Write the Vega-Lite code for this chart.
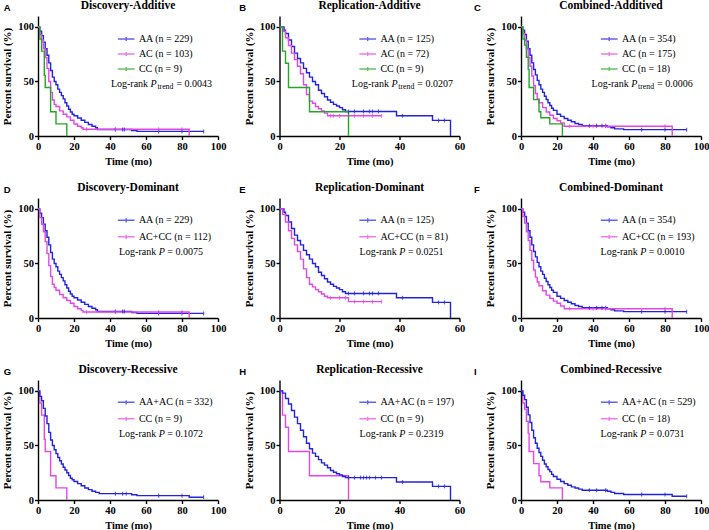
{
"$schema":"https://vega.github.io/schema/vega-lite/v6.json",
"background":"white",
"padding":{"left":1,"top":0,"right":0,"bottom":0},
"datasets":{
"steps":[
{"c":"dAA","t":0,"s":100},{"c":"dAA","t":1,"s":96},{"c":"dAA","t":2,"s":92},{"c":"dAA","t":3,"s":86},{"c":"dAA","t":4,"s":80},{"c":"dAA","t":5,"s":74},{"c":"dAA","t":6,"s":67},{"c":"dAA","t":7,"s":60},{"c":"dAA","t":8,"s":54},{"c":"dAA","t":9,"s":50},{"c":"dAA","t":10,"s":47},{"c":"dAA","t":11,"s":43},{"c":"dAA","t":12,"s":40},{"c":"dAA","t":13,"s":37},{"c":"dAA","t":14,"s":34},{"c":"dAA","t":15,"s":30.5},{"c":"dAA","t":16,"s":27.5},{"c":"dAA","t":17,"s":24.5},{"c":"dAA","t":18,"s":22},{"c":"dAA","t":19,"s":20},{"c":"dAA","t":20,"s":18.5},{"c":"dAA","t":22,"s":16.5},{"c":"dAA","t":24,"s":14.5},{"c":"dAA","t":26,"s":12.5},{"c":"dAA","t":28,"s":10.5},{"c":"dAA","t":30,"s":9},{"c":"dAA","t":32,"s":7.5},{"c":"dAA","t":33,"s":6},{"c":"dAA","t":52,"s":5},{"c":"dAA","t":55,"s":4.2},{"c":"dAA","t":92,"s":4.2},
{"c":"dAC","t":0,"s":100},{"c":"dAC","t":1,"s":93},{"c":"dAC","t":2,"s":88},{"c":"dAC","t":3,"s":80},{"c":"dAC","t":4,"s":72},{"c":"dAC","t":5,"s":62},{"c":"dAC","t":6,"s":50},{"c":"dAC","t":7,"s":40},{"c":"dAC","t":8,"s":33},{"c":"dAC","t":9,"s":29},{"c":"dAC","t":10,"s":27},{"c":"dAC","t":12,"s":23},{"c":"dAC","t":14,"s":20},{"c":"dAC","t":16,"s":17.5},{"c":"dAC","t":18,"s":14.5},{"c":"dAC","t":20,"s":11},{"c":"dAC","t":22,"s":9},{"c":"dAC","t":24,"s":7.5},{"c":"dAC","t":25,"s":6.2},{"c":"dAC","t":84,"s":0},
{"c":"dCC","t":0,"s":100},{"c":"dCC","t":1,"s":88.9},{"c":"dCC","t":2,"s":77.8},{"c":"dCC","t":3.5,"s":55.6},{"c":"dCC","t":4,"s":44.4},{"c":"dCC","t":7,"s":22.2},{"c":"dCC","t":10,"s":11.1},{"c":"dCC","t":16,"s":0},
{"c":"dACCC","t":0,"s":100},{"c":"dACCC","t":1,"s":92},{"c":"dACCC","t":2,"s":86},{"c":"dACCC","t":3,"s":79},{"c":"dACCC","t":4,"s":70},{"c":"dACCC","t":5,"s":59},{"c":"dACCC","t":6,"s":48},{"c":"dACCC","t":7,"s":38},{"c":"dACCC","t":8,"s":31},{"c":"dACCC","t":9,"s":28},{"c":"dACCC","t":10,"s":25.5},{"c":"dACCC","t":12,"s":21.5},{"c":"dACCC","t":14,"s":18.5},{"c":"dACCC","t":16,"s":16},{"c":"dACCC","t":18,"s":13.5},{"c":"dACCC","t":20,"s":10.5},{"c":"dACCC","t":22,"s":8.5},{"c":"dACCC","t":24,"s":7},{"c":"dACCC","t":25,"s":5.5},{"c":"dACCC","t":84,"s":0},
{"c":"dAAAC","t":0,"s":100},{"c":"dAAAC","t":1,"s":95},{"c":"dAAAC","t":2,"s":91},{"c":"dAAAC","t":3,"s":84},{"c":"dAAAC","t":4,"s":77},{"c":"dAAAC","t":5,"s":70},{"c":"dAAAC","t":6,"s":62},{"c":"dAAAC","t":7,"s":55},{"c":"dAAAC","t":8,"s":50},{"c":"dAAAC","t":9,"s":46},{"c":"dAAAC","t":10,"s":42.5},{"c":"dAAAC","t":11,"s":39},{"c":"dAAAC","t":12,"s":36},{"c":"dAAAC","t":13,"s":33},{"c":"dAAAC","t":14,"s":30},{"c":"dAAAC","t":15,"s":27.5},{"c":"dAAAC","t":16,"s":25},{"c":"dAAAC","t":17,"s":22.5},{"c":"dAAAC","t":18,"s":20},{"c":"dAAAC","t":19,"s":18.5},{"c":"dAAAC","t":20,"s":17},{"c":"dAAAC","t":22,"s":15},{"c":"dAAAC","t":24,"s":13},{"c":"dAAAC","t":26,"s":11},{"c":"dAAAC","t":28,"s":9.5},{"c":"dAAAC","t":30,"s":8},{"c":"dAAAC","t":32,"s":7},{"c":"dAAAC","t":34,"s":5.8},{"c":"dAAAC","t":52,"s":4.8},{"c":"dAAAC","t":55,"s":4},{"c":"dAAAC","t":84,"s":2.5},{"c":"dAAAC","t":92,"s":2.5},
{"c":"rAA","t":0,"s":100},{"c":"rAA","t":1.5,"s":97},{"c":"rAA","t":2,"s":94},{"c":"rAA","t":3,"s":88},{"c":"rAA","t":4,"s":82},{"c":"rAA","t":5,"s":76},{"c":"rAA","t":6,"s":71},{"c":"rAA","t":7,"s":67},{"c":"rAA","t":8,"s":62},{"c":"rAA","t":9,"s":58},{"c":"rAA","t":10,"s":54},{"c":"rAA","t":11,"s":50},{"c":"rAA","t":12,"s":47},{"c":"rAA","t":13,"s":42},{"c":"rAA","t":14,"s":39},{"c":"rAA","t":15,"s":36},{"c":"rAA","t":16,"s":33},{"c":"rAA","t":17,"s":31},{"c":"rAA","t":18,"s":29},{"c":"rAA","t":19,"s":27.5},{"c":"rAA","t":20,"s":26},{"c":"rAA","t":21,"s":24},{"c":"rAA","t":22,"s":22.5},{"c":"rAA","t":39,"s":18.5},{"c":"rAA","t":51,"s":14.3},{"c":"rAA","t":57,"s":0},
{"c":"rAC","t":0,"s":100},{"c":"rAC","t":1,"s":96},{"c":"rAC","t":2,"s":90},{"c":"rAC","t":3,"s":83},{"c":"rAC","t":4,"s":76},{"c":"rAC","t":5,"s":70},{"c":"rAC","t":6,"s":64},{"c":"rAC","t":7,"s":57},{"c":"rAC","t":8,"s":47},{"c":"rAC","t":9,"s":38},{"c":"rAC","t":10,"s":32},{"c":"rAC","t":11,"s":30},{"c":"rAC","t":12,"s":27},{"c":"rAC","t":13,"s":25},{"c":"rAC","t":14,"s":23},{"c":"rAC","t":15,"s":21},{"c":"rAC","t":16,"s":18.5},{"c":"rAC","t":34,"s":18.5},
{"c":"rCC","t":0,"s":100},{"c":"rCC","t":1,"s":77.8},{"c":"rCC","t":2,"s":66.7},{"c":"rCC","t":3,"s":44.4},{"c":"rCC","t":10,"s":22.2},{"c":"rCC","t":23,"s":0},
{"c":"rACCC","t":0,"s":100},{"c":"rACCC","t":1,"s":95},{"c":"rACCC","t":2,"s":88},{"c":"rACCC","t":3,"s":80},{"c":"rACCC","t":4,"s":73},{"c":"rACCC","t":5,"s":67},{"c":"rACCC","t":6,"s":61},{"c":"rACCC","t":7,"s":54},{"c":"rACCC","t":8,"s":45},{"c":"rACCC","t":9,"s":37},{"c":"rACCC","t":10,"s":31},{"c":"rACCC","t":11,"s":28.5},{"c":"rACCC","t":12,"s":26},{"c":"rACCC","t":13,"s":24},{"c":"rACCC","t":14,"s":22},{"c":"rACCC","t":15,"s":20},{"c":"rACCC","t":16,"s":18.5},{"c":"rACCC","t":23,"s":15},{"c":"rACCC","t":34,"s":15},
{"c":"rAAAC","t":0,"s":100},{"c":"rAAAC","t":1,"s":98},{"c":"rAAAC","t":2,"s":93},{"c":"rAAAC","t":3,"s":88},{"c":"rAAAC","t":4,"s":82},{"c":"rAAAC","t":5,"s":76},{"c":"rAAAC","t":6,"s":70},{"c":"rAAAC","t":7,"s":64},{"c":"rAAAC","t":8,"s":58},{"c":"rAAAC","t":9,"s":52},{"c":"rAAAC","t":10,"s":47},{"c":"rAAAC","t":11,"s":43},{"c":"rAAAC","t":12,"s":40},{"c":"rAAAC","t":13,"s":37},{"c":"rAAAC","t":14,"s":34},{"c":"rAAAC","t":15,"s":32},{"c":"rAAAC","t":16,"s":29.5},{"c":"rAAAC","t":17,"s":27},{"c":"rAAAC","t":18,"s":25.5},{"c":"rAAAC","t":19,"s":24},{"c":"rAAAC","t":20,"s":23},{"c":"rAAAC","t":21,"s":21.5},{"c":"rAAAC","t":22,"s":20.5},{"c":"rAAAC","t":39,"s":16.5},{"c":"rAAAC","t":51,"s":12.5},{"c":"rAAAC","t":57,"s":0},
{"c":"cAA","t":0,"s":100},{"c":"cAA","t":1,"s":97},{"c":"cAA","t":2,"s":93},{"c":"cAA","t":3,"s":87},{"c":"cAA","t":4,"s":80},{"c":"cAA","t":5,"s":74},{"c":"cAA","t":6,"s":67},{"c":"cAA","t":7,"s":61},{"c":"cAA","t":8,"s":56},{"c":"cAA","t":9,"s":51},{"c":"cAA","t":10,"s":47},{"c":"cAA","t":11,"s":43},{"c":"cAA","t":12,"s":40},{"c":"cAA","t":13,"s":36.5},{"c":"cAA","t":14,"s":33.5},{"c":"cAA","t":15,"s":30.5},{"c":"cAA","t":16,"s":28},{"c":"cAA","t":17,"s":25.5},{"c":"cAA","t":18,"s":23.5},{"c":"cAA","t":20,"s":20},{"c":"cAA","t":22,"s":18},{"c":"cAA","t":24,"s":16},{"c":"cAA","t":26,"s":14.5},{"c":"cAA","t":28,"s":13},{"c":"cAA","t":30,"s":11.5},{"c":"cAA","t":32,"s":10.5},{"c":"cAA","t":34,"s":9.5},{"c":"cAA","t":48,"s":8.5},{"c":"cAA","t":50,"s":7.5},{"c":"cAA","t":52,"s":6.5},{"c":"cAA","t":57,"s":5.8},{"c":"cAA","t":92,"s":5.8},
{"c":"cAC","t":0,"s":100},{"c":"cAC","t":1,"s":94},{"c":"cAC","t":2,"s":88},{"c":"cAC","t":3,"s":80},{"c":"cAC","t":4,"s":72},{"c":"cAC","t":5,"s":64},{"c":"cAC","t":6,"s":55},{"c":"cAC","t":7,"s":46},{"c":"cAC","t":8,"s":39},{"c":"cAC","t":9,"s":34},{"c":"cAC","t":10,"s":30.5},{"c":"cAC","t":12,"s":26},{"c":"cAC","t":14,"s":22},{"c":"cAC","t":16,"s":19},{"c":"cAC","t":18,"s":16},{"c":"cAC","t":20,"s":14},{"c":"cAC","t":22,"s":12},{"c":"cAC","t":24,"s":9},{"c":"cAC","t":84,"s":0},
{"c":"cCC","t":0,"s":100},{"c":"cCC","t":1,"s":88.9},{"c":"cCC","t":2,"s":83.3},{"c":"cCC","t":3,"s":72.2},{"c":"cCC","t":4,"s":61.1},{"c":"cCC","t":4.5,"s":44.4},{"c":"cCC","t":7,"s":33.3},{"c":"cCC","t":10,"s":22.2},{"c":"cCC","t":11,"s":16.7},{"c":"cCC","t":16,"s":11.1},{"c":"cCC","t":23,"s":0},
{"c":"cACCC","t":0,"s":100},{"c":"cACCC","t":1,"s":93},{"c":"cACCC","t":2,"s":87},{"c":"cACCC","t":3,"s":79},{"c":"cACCC","t":4,"s":71},{"c":"cACCC","t":5,"s":62},{"c":"cACCC","t":6,"s":53},{"c":"cACCC","t":7,"s":44},{"c":"cACCC","t":8,"s":37.5},{"c":"cACCC","t":9,"s":33},{"c":"cACCC","t":10,"s":29.5},{"c":"cACCC","t":12,"s":25},{"c":"cACCC","t":14,"s":21},{"c":"cACCC","t":16,"s":18},{"c":"cACCC","t":18,"s":15.5},{"c":"cACCC","t":20,"s":13.5},{"c":"cACCC","t":22,"s":11},{"c":"cACCC","t":24,"s":8.5},{"c":"cACCC","t":84,"s":0},
{"c":"cAAAC","t":0,"s":100},{"c":"cAAAC","t":1,"s":96},{"c":"cAAAC","t":2,"s":92},{"c":"cAAAC","t":3,"s":85},{"c":"cAAAC","t":4,"s":78},{"c":"cAAAC","t":5,"s":71},{"c":"cAAAC","t":6,"s":64},{"c":"cAAAC","t":7,"s":57},{"c":"cAAAC","t":8,"s":52},{"c":"cAAAC","t":9,"s":47.5},{"c":"cAAAC","t":10,"s":43.5},{"c":"cAAAC","t":11,"s":40},{"c":"cAAAC","t":12,"s":36.5},{"c":"cAAAC","t":13,"s":33},{"c":"cAAAC","t":14,"s":30.5},{"c":"cAAAC","t":15,"s":28},{"c":"cAAAC","t":16,"s":26},{"c":"cAAAC","t":17,"s":23.5},{"c":"cAAAC","t":18,"s":21.5},{"c":"cAAAC","t":20,"s":19},{"c":"cAAAC","t":22,"s":17},{"c":"cAAAC","t":24,"s":15},{"c":"cAAAC","t":26,"s":13.5},{"c":"cAAAC","t":28,"s":12},{"c":"cAAAC","t":30,"s":11},{"c":"cAAAC","t":32,"s":10},{"c":"cAAAC","t":34,"s":9},{"c":"cAAAC","t":48,"s":8},{"c":"cAAAC","t":50,"s":7},{"c":"cAAAC","t":52,"s":6},{"c":"cAAAC","t":57,"s":5},{"c":"cAAAC","t":84,"s":3.5},{"c":"cAAAC","t":92,"s":3.5}
],
"cens":[
{"c":"dAA","t":43,"s":6},{"c":"dAA","t":47,"s":6},{"c":"dAA","t":48,"s":6},{"c":"dAA","t":67,"s":4.2},{"c":"dAA","t":80,"s":4.2},{"c":"dAA","t":92,"s":4.2},
{"c":"dAC","t":27,"s":6.2},{"c":"dAC","t":43,"s":6.2},{"c":"dAC","t":67,"s":6.2},{"c":"dAC","t":80,"s":6.2},
{"c":"dACCC","t":27,"s":5.5},{"c":"dACCC","t":43,"s":5.5},{"c":"dACCC","t":67,"s":5.5},{"c":"dACCC","t":80,"s":5.5},
{"c":"dAAAC","t":43,"s":5.8},{"c":"dAAAC","t":47,"s":5.8},{"c":"dAAAC","t":49,"s":5.8},{"c":"dAAAC","t":67,"s":4},{"c":"dAAAC","t":80,"s":4},{"c":"dAAAC","t":92,"s":2.5},
{"c":"rAA","t":23,"s":22.5},{"c":"rAA","t":25,"s":22.5},{"c":"rAA","t":28,"s":22.5},{"c":"rAA","t":30,"s":22.5},{"c":"rAA","t":31,"s":22.5},{"c":"rAA","t":33,"s":22.5},{"c":"rAA","t":41,"s":18.5},{"c":"rAA","t":53,"s":14.3},{"c":"rAA","t":55,"s":14.3},
{"c":"rAC","t":17,"s":18.5},{"c":"rAC","t":18,"s":18.5},{"c":"rAC","t":20,"s":18.5},{"c":"rAC","t":25,"s":18.5},{"c":"rAC","t":28,"s":18.5},{"c":"rAC","t":31,"s":18.5},{"c":"rAC","t":34,"s":18.5},
{"c":"rACCC","t":17,"s":18.5},{"c":"rACCC","t":20,"s":18.5},{"c":"rACCC","t":22,"s":18.5},{"c":"rACCC","t":25,"s":15},{"c":"rACCC","t":28,"s":15},{"c":"rACCC","t":31,"s":15},{"c":"rACCC","t":34,"s":15},
{"c":"rAAAC","t":23,"s":20.5},{"c":"rAAAC","t":25,"s":20.5},{"c":"rAAAC","t":27,"s":20.5},{"c":"rAAAC","t":28,"s":20.5},{"c":"rAAAC","t":29,"s":20.5},{"c":"rAAAC","t":30,"s":20.5},{"c":"rAAAC","t":32,"s":20.5},{"c":"rAAAC","t":34,"s":20.5},{"c":"rAAAC","t":41,"s":16.5},{"c":"rAAAC","t":53,"s":12.5},{"c":"rAAAC","t":55,"s":12.5},
{"c":"cAA","t":38,"s":9.5},{"c":"cAA","t":42,"s":9.5},{"c":"cAA","t":45,"s":9.5},{"c":"cAA","t":47,"s":9.5},{"c":"cAA","t":67,"s":5.8},{"c":"cAA","t":80,"s":5.8},{"c":"cAA","t":92,"s":5.8},
{"c":"cAC","t":27,"s":9},{"c":"cAC","t":40,"s":9},{"c":"cAC","t":47,"s":9},{"c":"cAC","t":80,"s":9},
{"c":"cACCC","t":27,"s":8.5},{"c":"cACCC","t":40,"s":8.5},{"c":"cACCC","t":47,"s":8.5},{"c":"cACCC","t":80,"s":8.5},
{"c":"cAAAC","t":38,"s":9},{"c":"cAAAC","t":42,"s":9},{"c":"cAAAC","t":47,"s":9},{"c":"cAAAC","t":67,"s":5},{"c":"cAAAC","t":80,"s":5},{"c":"cAAAC","t":92,"s":3.5}
]
},
"columns":3,
"spacing":{"row":62,"column":61.5},
"bounds":"flush",
"resolve":{"scale":{"color":"independent"},"legend":{"color":"independent"}},
"concat":[
{"width":180,"height":120,"layer":[
{"data":{"name":"steps"},"transform":[{"filter":{"field":"c","oneOf":["dAA","dAC","dCC"]}}],"mark":{"type":"line","interpolate":"step-after","strokeWidth":1.4},
"encoding":{"x":{"field":"t","type":"quantitative","scale":{"domain":[0,100],"nice":false},"axis":{"tickCount":5,"title":"Time (mo)"}},
"y":{"field":"s","type":"quantitative","scale":{"domain":[0,110],"nice":false},"axis":{"values":[0,50,100],"title":"Percent survival (%)"}},
"color":{"field":"c","type":"nominal","scale":{"domain":["dAA","dAC","dCC"],"range":["#2323dc","#e448e4","#27a527"]},"legend":{"title":null,"legendX":83.2,"legendY":18,"rowPadding":5,"labelFont":"Liberation Serif","labelExpr":"datum.label=='dAA'?'AA (n = 229)':datum.label=='dAC'?'AC (n = 103)':'CC (n = 9)'"}}}},
{"data":{"name":"cens"},"transform":[{"filter":{"field":"c","oneOf":["dAA","dAC","dCC"]}}],"mark":{"type":"tick","orient":"vertical","size":4,"thickness":1.2},"encoding":{"x":{"field":"t","type":"quantitative"},"y":{"field":"s","type":"quantitative"},"color":{"field":"c","type":"nominal"}}},
{"data":{"values":[{}]},"mark":{"type":"text","text":"Discovery-Additive","align":"center","fontSize":11.5,"fontWeight":"bold"},"encoding":{"x":{"datum":50},"y":{"datum":116}}},
{"data":{"values":[{}]},"mark":{"type":"text","text":"A","font":"Liberation Sans","fontSize":9.5,"fontWeight":"bold"},"encoding":{"x":{"datum":-19},"y":{"datum":115}}},
{"data":{"values":[{}]},"mark":{"type":"text","text":"Log-rank"},"encoding":{"x":{"datum":40.5},"y":{"datum":45}}},
{"data":{"values":[{}]},"mark":{"type":"text","text":"P","fontStyle":"italic","dx":39.7},"encoding":{"x":{"datum":40.5},"y":{"datum":45}}},
{"data":{"values":[{}]},"mark":{"type":"text","text":"trend","fontSize":7.8,"dx":46.5,"dy":2.5},"encoding":{"x":{"datum":40.5},"y":{"datum":45}}},
{"data":{"values":[{}]},"mark":{"type":"text","text":"= 0.0043","dx":65.5},"encoding":{"x":{"datum":40.5},"y":{"datum":45}}}
]},
{"width":180,"height":120,"layer":[
{"data":{"name":"steps"},"transform":[{"filter":{"field":"c","oneOf":["rAA","rAC","rCC"]}}],"mark":{"type":"line","interpolate":"step-after","strokeWidth":1.4},
"encoding":{"x":{"field":"t","type":"quantitative","scale":{"domain":[0,60],"nice":false},"axis":{"values":[0,20,40,60],"title":"Time (mo)"}},
"y":{"field":"s","type":"quantitative","scale":{"domain":[0,110],"nice":false},"axis":{"values":[0,50,100],"title":"Percent survival (%)"}},
"color":{"field":"c","type":"nominal","scale":{"domain":["rAA","rAC","rCC"],"range":["#2323dc","#e448e4","#27a527"]},"legend":{"title":null,"legendX":83.2,"legendY":18,"rowPadding":5,"labelFont":"Liberation Serif","labelExpr":"datum.label=='rAA'?'AA (n = 125)':datum.label=='rAC'?'AC (n = 72)':'CC (n = 9)'"}}}},
{"data":{"name":"cens"},"transform":[{"filter":{"field":"c","oneOf":["rAA","rAC","rCC"]}}],"mark":{"type":"tick","orient":"vertical","size":4,"thickness":1.2},"encoding":{"x":{"field":"t","type":"quantitative"},"y":{"field":"s","type":"quantitative"},"color":{"field":"c","type":"nominal"}}},
{"data":{"values":[{}]},"mark":{"type":"text","text":"Replication-Additive","align":"center","fontSize":11.5,"fontWeight":"bold"},"encoding":{"x":{"datum":30},"y":{"datum":116}}},
{"data":{"values":[{}]},"mark":{"type":"text","text":"B","font":"Liberation Sans","fontSize":9.5,"fontWeight":"bold"},"encoding":{"x":{"datum":-13.4},"y":{"datum":115}}},
{"data":{"values":[{}]},"mark":{"type":"text","text":"Log-rank"},"encoding":{"x":{"datum":24.1},"y":{"datum":45}}},
{"data":{"values":[{}]},"mark":{"type":"text","text":"P","fontStyle":"italic","dx":39.7},"encoding":{"x":{"datum":24.1},"y":{"datum":45}}},
{"data":{"values":[{}]},"mark":{"type":"text","text":"trend","fontSize":7.8,"dx":46.5,"dy":2.5},"encoding":{"x":{"datum":24.1},"y":{"datum":45}}},
{"data":{"values":[{}]},"mark":{"type":"text","text":"= 0.0207","dx":65.5},"encoding":{"x":{"datum":24.1},"y":{"datum":45}}}
]},
{"width":180,"height":120,"layer":[
{"data":{"name":"steps"},"transform":[{"filter":{"field":"c","oneOf":["cAA","cAC","cCC"]}}],"mark":{"type":"line","interpolate":"step-after","strokeWidth":1.4},
"encoding":{"x":{"field":"t","type":"quantitative","scale":{"domain":[0,100],"nice":false},"axis":{"tickCount":5,"title":"Time (mo)"}},
"y":{"field":"s","type":"quantitative","scale":{"domain":[0,110],"nice":false},"axis":{"values":[0,50,100],"title":"Percent survival (%)"}},
"color":{"field":"c","type":"nominal","scale":{"domain":["cAA","cAC","cCC"],"range":["#2323dc","#e448e4","#27a527"]},"legend":{"title":null,"legendX":83.2,"legendY":18,"rowPadding":5,"labelFont":"Liberation Serif","labelExpr":"datum.label=='cAA'?'AA (n = 354)':datum.label=='cAC'?'AC (n = 175)':'CC (n = 18)'"}}}},
{"data":{"name":"cens"},"transform":[{"filter":{"field":"c","oneOf":["cAA","cAC","cCC"]}}],"mark":{"type":"tick","orient":"vertical","size":4,"thickness":1.2},"encoding":{"x":{"field":"t","type":"quantitative"},"y":{"field":"s","type":"quantitative"},"color":{"field":"c","type":"nominal"}}},
{"data":{"values":[{}]},"mark":{"type":"text","text":"Combined-Additived","align":"center","fontSize":11.5,"fontWeight":"bold"},"encoding":{"x":{"datum":50},"y":{"datum":116}}},
{"data":{"values":[{}]},"mark":{"type":"text","text":"C","font":"Liberation Sans","fontSize":9.5,"fontWeight":"bold"},"encoding":{"x":{"datum":-26.1},"y":{"datum":115}}},
{"data":{"values":[{}]},"mark":{"type":"text","text":"Log-rank"},"encoding":{"x":{"datum":39.2},"y":{"datum":45}}},
{"data":{"values":[{}]},"mark":{"type":"text","text":"P","fontStyle":"italic","dx":39.7},"encoding":{"x":{"datum":39.2},"y":{"datum":45}}},
{"data":{"values":[{}]},"mark":{"type":"text","text":"trend","fontSize":7.8,"dx":46.5,"dy":2.5},"encoding":{"x":{"datum":39.2},"y":{"datum":45}}},
{"data":{"values":[{}]},"mark":{"type":"text","text":"= 0.0006","dx":65.5},"encoding":{"x":{"datum":39.2},"y":{"datum":45}}}
]},
{"width":180,"height":120,"layer":[
{"data":{"name":"steps"},"transform":[{"filter":{"field":"c","oneOf":["dAA","dACCC"]}}],"mark":{"type":"line","interpolate":"step-after","strokeWidth":1.4},
"encoding":{"x":{"field":"t","type":"quantitative","scale":{"domain":[0,100],"nice":false},"axis":{"tickCount":5,"title":"Time (mo)"}},
"y":{"field":"s","type":"quantitative","scale":{"domain":[0,110],"nice":false},"axis":{"values":[0,50,100],"title":"Percent survival (%)"}},
"color":{"field":"c","type":"nominal","scale":{"domain":["dAA","dACCC"],"range":["#2323dc","#e448e4"]},"legend":{"title":null,"legendX":83.2,"legendY":17.3,"rowPadding":6.5,"labelFont":"Liberation Serif","labelExpr":"datum.label=='dAA'?'AA (n = 229)':'AC+CC (n = 112)'"}}}},
{"data":{"name":"cens"},"transform":[{"filter":{"field":"c","oneOf":["dAA","dACCC"]}}],"mark":{"type":"tick","orient":"vertical","size":4,"thickness":1.2},"encoding":{"x":{"field":"t","type":"quantitative"},"y":{"field":"s","type":"quantitative"},"color":{"field":"c","type":"nominal"}}},
{"data":{"values":[{}]},"mark":{"type":"text","text":"Discovery-Dominant","align":"center","fontSize":11.5,"fontWeight":"bold"},"encoding":{"x":{"datum":50},"y":{"datum":116}}},
{"data":{"values":[{}]},"mark":{"type":"text","text":"D","font":"Liberation Sans","fontSize":9.5,"fontWeight":"bold"},"encoding":{"x":{"datum":-19},"y":{"datum":115}}},
{"data":{"values":[{}]},"mark":{"type":"text","text":"Log-rank"},"encoding":{"x":{"datum":45},"y":{"datum":57.4}}},
{"data":{"values":[{}]},"mark":{"type":"text","text":"P","fontStyle":"italic","dx":39.7},"encoding":{"x":{"datum":45},"y":{"datum":57.4}}},
{"data":{"values":[{}]},"mark":{"type":"text","text":"= 0.0075","dx":48.3},"encoding":{"x":{"datum":45},"y":{"datum":57.4}}}
]},
{"width":180,"height":120,"layer":[
{"data":{"name":"steps"},"transform":[{"filter":{"field":"c","oneOf":["rAA","rACCC"]}}],"mark":{"type":"line","interpolate":"step-after","strokeWidth":1.4},
"encoding":{"x":{"field":"t","type":"quantitative","scale":{"domain":[0,60],"nice":false},"axis":{"values":[0,20,40,60],"title":"Time (mo)"}},
"y":{"field":"s","type":"quantitative","scale":{"domain":[0,110],"nice":false},"axis":{"values":[0,50,100],"title":"Percent survival (%)"}},
"color":{"field":"c","type":"nominal","scale":{"domain":["rAA","rACCC"],"range":["#2323dc","#e448e4"]},"legend":{"title":null,"legendX":83.2,"legendY":17.3,"rowPadding":6.5,"labelFont":"Liberation Serif","labelExpr":"datum.label=='rAA'?'AA (n = 125)':'AC+CC (n = 81)'"}}}},
{"data":{"name":"cens"},"transform":[{"filter":{"field":"c","oneOf":["rAA","rACCC"]}}],"mark":{"type":"tick","orient":"vertical","size":4,"thickness":1.2},"encoding":{"x":{"field":"t","type":"quantitative"},"y":{"field":"s","type":"quantitative"},"color":{"field":"c","type":"nominal"}}},
{"data":{"values":[{}]},"mark":{"type":"text","text":"Replication-Dominant","align":"center","fontSize":11.5,"fontWeight":"bold"},"encoding":{"x":{"datum":30},"y":{"datum":116}}},
{"data":{"values":[{}]},"mark":{"type":"text","text":"E","font":"Liberation Sans","fontSize":9.5,"fontWeight":"bold"},"encoding":{"x":{"datum":-13.4},"y":{"datum":115}}},
{"data":{"values":[{}]},"mark":{"type":"text","text":"Log-rank"},"encoding":{"x":{"datum":26.7},"y":{"datum":57.4}}},
{"data":{"values":[{}]},"mark":{"type":"text","text":"P","fontStyle":"italic","dx":39.7},"encoding":{"x":{"datum":26.7},"y":{"datum":57.4}}},
{"data":{"values":[{}]},"mark":{"type":"text","text":"= 0.0251","dx":48.3},"encoding":{"x":{"datum":26.7},"y":{"datum":57.4}}}
]},
{"width":180,"height":120,"layer":[
{"data":{"name":"steps"},"transform":[{"filter":{"field":"c","oneOf":["cAA","cACCC"]}}],"mark":{"type":"line","interpolate":"step-after","strokeWidth":1.4},
"encoding":{"x":{"field":"t","type":"quantitative","scale":{"domain":[0,100],"nice":false},"axis":{"tickCount":5,"title":"Time (mo)"}},
"y":{"field":"s","type":"quantitative","scale":{"domain":[0,110],"nice":false},"axis":{"values":[0,50,100],"title":"Percent survival (%)"}},
"color":{"field":"c","type":"nominal","scale":{"domain":["cAA","cACCC"],"range":["#2323dc","#e448e4"]},"legend":{"title":null,"legendX":83.2,"legendY":17.3,"rowPadding":6.5,"labelFont":"Liberation Serif","labelExpr":"datum.label=='cAA'?'AA (n = 354)':'AC+CC (n = 193)'"}}}},
{"data":{"name":"cens"},"transform":[{"filter":{"field":"c","oneOf":["cAA","cACCC"]}}],"mark":{"type":"tick","orient":"vertical","size":4,"thickness":1.2},"encoding":{"x":{"field":"t","type":"quantitative"},"y":{"field":"s","type":"quantitative"},"color":{"field":"c","type":"nominal"}}},
{"data":{"values":[{}]},"mark":{"type":"text","text":"Combined-Dominant","align":"center","fontSize":11.5,"fontWeight":"bold"},"encoding":{"x":{"datum":50},"y":{"datum":116}}},
{"data":{"values":[{}]},"mark":{"type":"text","text":"F","font":"Liberation Sans","fontSize":9.5,"fontWeight":"bold"},"encoding":{"x":{"datum":-26.1},"y":{"datum":115}}},
{"data":{"values":[{}]},"mark":{"type":"text","text":"Log-rank"},"encoding":{"x":{"datum":44.2},"y":{"datum":57.4}}},
{"data":{"values":[{}]},"mark":{"type":"text","text":"P","fontStyle":"italic","dx":39.7},"encoding":{"x":{"datum":44.2},"y":{"datum":57.4}}},
{"data":{"values":[{}]},"mark":{"type":"text","text":"= 0.0010","dx":48.3},"encoding":{"x":{"datum":44.2},"y":{"datum":57.4}}}
]},
{"width":180,"height":120,"layer":[
{"data":{"name":"steps"},"transform":[{"filter":{"field":"c","oneOf":["dAAAC","dCC"]}}],"mark":{"type":"line","interpolate":"step-after","strokeWidth":1.4},
"encoding":{"x":{"field":"t","type":"quantitative","scale":{"domain":[0,100],"nice":false},"axis":{"tickCount":5,"title":"Time (mo)"}},
"y":{"field":"s","type":"quantitative","scale":{"domain":[0,110],"nice":false},"axis":{"values":[0,50,100],"title":"Percent survival (%)"}},
"color":{"field":"c","type":"nominal","scale":{"domain":["dAAAC","dCC"],"range":["#2323dc","#e448e4"]},"legend":{"title":null,"legendX":83.2,"legendY":17.3,"rowPadding":6.5,"labelFont":"Liberation Serif","labelExpr":"datum.label=='dAAAC'?'AA+AC (n = 332)':'CC (n = 9)'"}}}},
{"data":{"name":"cens"},"transform":[{"filter":{"field":"c","oneOf":["dAAAC","dCC"]}}],"mark":{"type":"tick","orient":"vertical","size":4,"thickness":1.2},"encoding":{"x":{"field":"t","type":"quantitative"},"y":{"field":"s","type":"quantitative"},"color":{"field":"c","type":"nominal"}}},
{"data":{"values":[{}]},"mark":{"type":"text","text":"Discovery-Recessive","align":"center","fontSize":11.5,"fontWeight":"bold"},"encoding":{"x":{"datum":50},"y":{"datum":116}}},
{"data":{"values":[{}]},"mark":{"type":"text","text":"G","font":"Liberation Sans","fontSize":9.5,"fontWeight":"bold"},"encoding":{"x":{"datum":-19},"y":{"datum":115}}},
{"data":{"values":[{}]},"mark":{"type":"text","text":"Log-rank"},"encoding":{"x":{"datum":45},"y":{"datum":57.4}}},
{"data":{"values":[{}]},"mark":{"type":"text","text":"P","fontStyle":"italic","dx":39.7},"encoding":{"x":{"datum":45},"y":{"datum":57.4}}},
{"data":{"values":[{}]},"mark":{"type":"text","text":"= 0.1072","dx":48.3},"encoding":{"x":{"datum":45},"y":{"datum":57.4}}}
]},
{"width":180,"height":120,"layer":[
{"data":{"name":"steps"},"transform":[{"filter":{"field":"c","oneOf":["rAAAC","rCC"]}}],"mark":{"type":"line","interpolate":"step-after","strokeWidth":1.4},
"encoding":{"x":{"field":"t","type":"quantitative","scale":{"domain":[0,60],"nice":false},"axis":{"values":[0,20,40,60],"title":"Time (mo)"}},
"y":{"field":"s","type":"quantitative","scale":{"domain":[0,110],"nice":false},"axis":{"values":[0,50,100],"title":"Percent survival (%)"}},
"color":{"field":"c","type":"nominal","scale":{"domain":["rAAAC","rCC"],"range":["#2323dc","#e448e4"]},"legend":{"title":null,"legendX":83.2,"legendY":17.3,"rowPadding":6.5,"labelFont":"Liberation Serif","labelExpr":"datum.label=='rAAAC'?'AA+AC (n = 197)':'CC (n = 9)'"}}}},
{"data":{"name":"cens"},"transform":[{"filter":{"field":"c","oneOf":["rAAAC","rCC"]}}],"mark":{"type":"tick","orient":"vertical","size":4,"thickness":1.2},"encoding":{"x":{"field":"t","type":"quantitative"},"y":{"field":"s","type":"quantitative"},"color":{"field":"c","type":"nominal"}}},
{"data":{"values":[{}]},"mark":{"type":"text","text":"Replication-Recessive","align":"center","fontSize":11.5,"fontWeight":"bold"},"encoding":{"x":{"datum":30},"y":{"datum":116}}},
{"data":{"values":[{}]},"mark":{"type":"text","text":"H","font":"Liberation Sans","fontSize":9.5,"fontWeight":"bold"},"encoding":{"x":{"datum":-13.4},"y":{"datum":115}}},
{"data":{"values":[{}]},"mark":{"type":"text","text":"Log-rank"},"encoding":{"x":{"datum":26.7},"y":{"datum":57.4}}},
{"data":{"values":[{}]},"mark":{"type":"text","text":"P","fontStyle":"italic","dx":39.7},"encoding":{"x":{"datum":26.7},"y":{"datum":57.4}}},
{"data":{"values":[{}]},"mark":{"type":"text","text":"= 0.2319","dx":48.3},"encoding":{"x":{"datum":26.7},"y":{"datum":57.4}}}
]},
{"width":180,"height":120,"layer":[
{"data":{"name":"steps"},"transform":[{"filter":{"field":"c","oneOf":["cAAAC","cCC"]}}],"mark":{"type":"line","interpolate":"step-after","strokeWidth":1.4},
"encoding":{"x":{"field":"t","type":"quantitative","scale":{"domain":[0,100],"nice":false},"axis":{"tickCount":5,"title":"Time (mo)"}},
"y":{"field":"s","type":"quantitative","scale":{"domain":[0,110],"nice":false},"axis":{"values":[0,50,100],"title":"Percent survival (%)"}},
"color":{"field":"c","type":"nominal","scale":{"domain":["cAAAC","cCC"],"range":["#2323dc","#e448e4"]},"legend":{"title":null,"legendX":83.2,"legendY":17.3,"rowPadding":6.5,"labelFont":"Liberation Serif","labelExpr":"datum.label=='cAAAC'?'AA+AC (n = 529)':'CC (n = 18)'"}}}},
{"data":{"name":"cens"},"transform":[{"filter":{"field":"c","oneOf":["cAAAC","cCC"]}}],"mark":{"type":"tick","orient":"vertical","size":4,"thickness":1.2},"encoding":{"x":{"field":"t","type":"quantitative"},"y":{"field":"s","type":"quantitative"},"color":{"field":"c","type":"nominal"}}},
{"data":{"values":[{}]},"mark":{"type":"text","text":"Combined-Recessive","align":"center","fontSize":11.5,"fontWeight":"bold"},"encoding":{"x":{"datum":50},"y":{"datum":116}}},
{"data":{"values":[{}]},"mark":{"type":"text","text":"I","font":"Liberation Sans","fontSize":9.5,"fontWeight":"bold"},"encoding":{"x":{"datum":-26.1},"y":{"datum":115}}},
{"data":{"values":[{}]},"mark":{"type":"text","text":"Log-rank"},"encoding":{"x":{"datum":44.2},"y":{"datum":57.4}}},
{"data":{"values":[{}]},"mark":{"type":"text","text":"P","fontStyle":"italic","dx":39.7},"encoding":{"x":{"datum":44.2},"y":{"datum":57.4}}},
{"data":{"values":[{}]},"mark":{"type":"text","text":"= 0.0731","dx":48.3},"encoding":{"x":{"datum":44.2},"y":{"datum":57.4}}}
]}
],
"config":{
"view":{"stroke":null},
"text":{"font":"Liberation Serif","fontSize":10,"color":"#000","align":"left","baseline":"alphabetic"},
"axis":{"grid":false,"domainColor":"#000","domainWidth":1.4,"tickColor":"#000","tickWidth":1.4,"tickSize":3.5,"labelFont":"Liberation Serif","labelFontSize":10.5,"labelFontWeight":"bold","labelColor":"#000","titleFont":"Liberation Serif","titleFontWeight":"bold","titleColor":"#000"},
"axisX":{"labelPadding":2,"labelFlush":false,"titleFontSize":10.5,"titlePadding":4.5},
"axisY":{"labelPadding":1,"titleFontSize":11,"titlePadding":5},
"legend":{"orient":"none","padding":0,"symbolType":"M-2,0H2M0,-0.5V0.5","symbolSize":70,"symbolStrokeWidth":1.4,"labelFont":"Liberation Serif","labelFontSize":10,"labelColor":"#000","labelOffset":7.7}
}
}
